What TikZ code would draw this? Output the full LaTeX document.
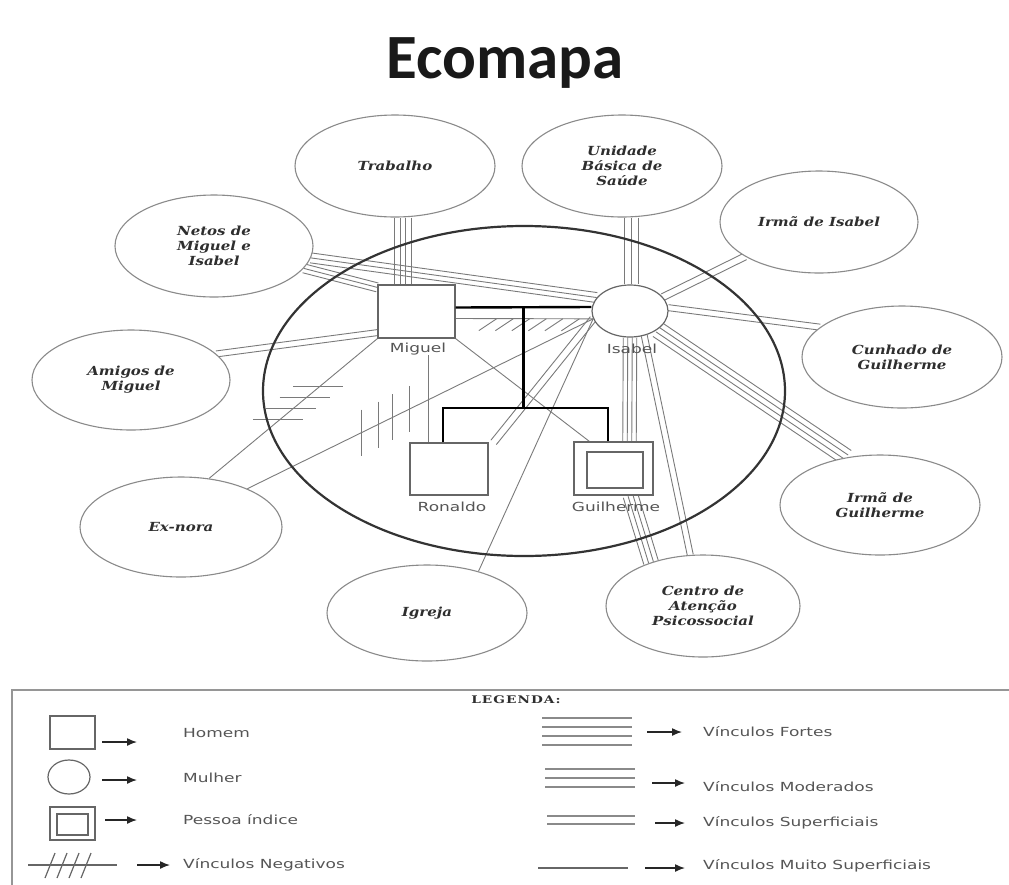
\documentclass[tikz,border=0pt]{standalone}
\usepackage{fontspec}
\usetikzlibrary{shapes.geometric,arrows.meta,calc}

\newfontfamily\titlefont{Carlito}
\newfontfamily\labelfont[FakeStretch=1.36]{DejaVu Sans}
\newfontfamily\placefont[FakeStretch=1.2]{DejaVu Serif}
\newfontfamily\legheadfont[FakeStretch=1.3,LetterSpace=10]{DejaVu Serif}

\definecolor{ink}{HTML}{2E2E2E}
\definecolor{soft}{HTML}{555555}
\definecolor{tiegray}{HTML}{7A7A7A}
\definecolor{rim}{HTML}{8A8A8A}
\definecolor{frame}{HTML}{666666}

\pgfdeclarelayer{ties}
\pgfsetlayers{ties,main}

% n parallel lines between two points: count, spacing, from, to
\newcommand\tiebundle[4]{%
  \foreach \k in {1,...,#1}{%
    \pgfmathsetmacro\off{(\k-(#1+1)/2)*#2}%
    \draw[tie] ($(#3)!\off pt!90:(#4)$) -- ($(#4)!\off pt!-90:(#3)$);
  }}

\begin{document}
\begin{tikzpicture}[x=1pt,y=-1pt,
  place/.style={ellipse, draw=rim, line width=1.1pt, fill=white, inner sep=0pt,
    minimum width=200pt, minimum height=102pt, align=center, text=ink,
    font=\placefont\bfseries\itshape\fontsize{12.5}{15}\selectfont},
  person/.style={rectangle, draw=frame, line width=1.2pt, fill=white, inner sep=0pt},
  woman/.style={ellipse, draw=frame, line width=1.2pt, fill=white, inner sep=0pt},
  who/.style={font=\labelfont\fontsize{12.5}{14}\selectfont, text=soft, inner sep=0pt},
  legtext/.style={font=\labelfont\fontsize{12.5}{14}\selectfont, text=soft, inner sep=0pt, anchor=west},
  tie/.style={draw=tiegray, line width=0.9pt},
  family/.style={draw=black, line width=2.4pt, line join=miter},
  legline/.style={draw=rim, line width=1.8pt},
  legarrow/.style={-{Latex[length=10pt,width=8pt]}, line width=1.4pt, draw=black!85, fill=black!85}]

\useasboundingbox (0,0) rectangle (1009,884);

% title
\node[font=\titlefont\bfseries\fontsize{63}{63}\selectfont, text=black!90] (title) at (505,63) {Ecomapa};

% household boundary
\node[ellipse, draw=black!80, line width=2.2pt, minimum width=522pt, minimum height=330pt, inner sep=0pt] (home) at (524,391) {};

% household members
\node[person, minimum width=77pt, minimum height=53pt] (miguel) at (416.5,311.5) {};
\node[woman, minimum width=76pt, minimum height=52pt] (isabel) at (630,311) {};
\node[person, minimum width=78pt, minimum height=52pt] (ronaldo) at (449,469) {};
\node[person, minimum width=79pt, minimum height=53pt] (guilherme) at (613.5,468.5) {};
\node[person, minimum width=56pt, minimum height=36pt] (guilin) at (615,470) {};

\node[who] (migl) at (418,349) {Miguel};
\node[who] (isal) at (632,349) {Isabel};
\node[who] (ronl) at (452,507) {Ronaldo};
\node[who] (guil) at (616,507) {Guilherme};

% outside systems
\node[place] (trab) at (395,166) {Trabalho};
\node[place, minimum width=198pt] (netos) at (214,246) {Netos de\\Miguel e\\Isabel};
\node[place] (ubs) at (622,166) {Unidade\\Básica de\\Saúde};
\node[place, minimum width=198pt] (irmai) at (819,222) {Irmã de Isabel};
\node[place] (cunh) at (902,357) {Cunhado de\\Guilherme};
\node[place, minimum height=100pt] (irmag) at (880,505) {Irmã de\\Guilherme};
\node[place, minimum width=194pt] (caps) at (703,606) {Centro de\\Atenção\\Psicossocial};
\node[place, minimum height=96pt] (igreja) at (427,613) {Igreja};
\node[place, minimum width=202pt, minimum height=100pt] (exnora) at (181,527) {Ex-nora};
\node[place, minimum width=198pt, minimum height=100pt] (amigos) at (131,380) {Amigos de\\Miguel};

% family structure
\coordinate (mar) at ($([yshift=4pt]miguel.east)!0.5!([yshift=4pt]isabel.west)$);
\draw[family] ([yshift=4pt]miguel.east) -- ([yshift=4pt]isabel.west);
\draw[family] (mar) -- (mar |- 0,408);
\draw[family] ([xshift=-6pt]ronaldo.north) |- ([xshift=-5.5pt]guilherme.north |- 0,408)
  -- ([xshift=-5.5pt]guilherme.north);

% relationships
\begin{pgfonlayer}{ties}
\tiebundle{4}{5.5}{[xshift=8pt]trab.south}{[xshift=-13.5pt]miguel.north}
\tiebundle{3}{7}{[xshift=9pt]ubs.south}{[xshift=1pt]isabel.north}
\tiebundle{3}{4.5}{netos.-14}{[yshift=-3pt]miguel.north west}
\tiebundle{3}{5}{netos.-7}{isabel.158}
\tiebundle{2}{6}{amigos.17}{[yshift=6pt]miguel.south west}
\tiebundle{1}{0}{exnora.60}{miguel.south west}
\tiebundle{1}{0}{exnora.30}{isabel.192}
\draw[tie] ([xshift=10pt]migl.south) -- ([xshift=10pt]migl.south |- ronaldo.north);
\tiebundle{1}{0}{miguel.south east}{[xshift=16pt]guilherme.north west}
\tiebundle{4}{4.5}{isabel.south}{[xshift=16pt]guilherme.north}
\tiebundle{4}{5}{[xshift=17pt]guilherme.south}{caps.140}
\tiebundle{2}{6}{isabel.-60}{caps.104}
\tiebundle{4}{5.5}{isabel.-34}{irmag.125}
\tiebundle{2}{6}{isabel.5}{cunh.160}
\tiebundle{2}{7}{isabel.23}{irmai.205}
\tiebundle{1}{0}{isabel.192}{igreja.39}
\tiebundle{2}{7}{isabel.192}{[xshift=5pt]ronaldo.north east}
\tiebundle{1}{0}{[yshift=-7pt]miguel.east}{isabel.192}
% negative marks
\foreach \t in {0.42,0.5,0.58,0.66}
  \draw[tie] ($(exnora.60)!\t!(miguel.south west)$) ++(-27,0) -- ++(50,0);
\foreach \t in {0.33,0.378,0.421,0.47}
  \draw[tie] ($(exnora.30)!\t!(isabel.192)$) ++(0,-23) -- ++(0,46);
\foreach \t in {0.30,0.42,0.54,0.66,0.78,0.90}
  \draw[tie] ($([yshift=-7pt]miguel.east)!\t!(isabel.192)$) -- ++(-18,12);
\end{pgfonlayer}

% legend
\draw[draw=rim!90, line width=1.2pt] (12,895) -- (12,690) -- (1015,690);
\node[font=\legheadfont\bfseries\fontsize{10.5}{10.5}\selectfont, text=ink] (leghead) at (516,700) {LEGENDA:};

\node[person, minimum width=45pt, minimum height=33pt] (homsym) at (72.5,732.5) {};
\node[woman, minimum width=42pt, minimum height=34pt] (mulsym) at (69,777) {};
\node[person, minimum width=45pt, minimum height=33pt] (idxsym) at (72.5,823.5) {};
\node[person, minimum width=31pt, minimum height=21pt] (idxin) at (72.5,824.5) {};

\node[legtext] (homt) at (183,733) {Homem};
\node[legtext] (mult) at (183,778) {Mulher};
\node[legtext] (idxt) at (183,820) {Pessoa índice};
\node[legtext] (negt) at (183,865) {Vínculos Negativos};
\node[legtext] (fort) at (703,732) {Vínculos Fortes};
\node[legtext] (modt) at (703,787) {Vínculos Moderados};
\node[legtext] (supt) at (703,823) {Vínculos Superficiais};
\node[legtext] (muit) at (703,866) {Vínculos Muito Superficiais};

\draw[legarrow] (102,742) -- (137,742);
\draw[legarrow] (102,780) -- (137,780);
\draw[legarrow] (105,820) -- (137,820);
\draw[legarrow] (137,865) -- (170,865);

\draw[draw=frame, line width=1.2pt] (28,865) -- (117,865);
\foreach \x in {45,57,69,81}
  \draw[draw=frame, line width=1.2pt] (\x,878) -- ++(10,-25);

\foreach \y in {718,727,736,745} \draw[legline] (542,\y) -- (632,\y);
\foreach \y in {769,778,787} \draw[legline] (545,\y) -- (635,\y);
\foreach \y in {816,824} \draw[legline] (547,\y) -- (635,\y);
\draw[draw=frame, line width=1.4pt] (538,868) -- (628,868);

\draw[legarrow] (647,732) -- (682,732);
\draw[legarrow] (652,783) -- (685,783);
\draw[legarrow] (655,823) -- (685,823);
\draw[legarrow] (645,868) -- (685,868);
\end{tikzpicture}
\end{document}
